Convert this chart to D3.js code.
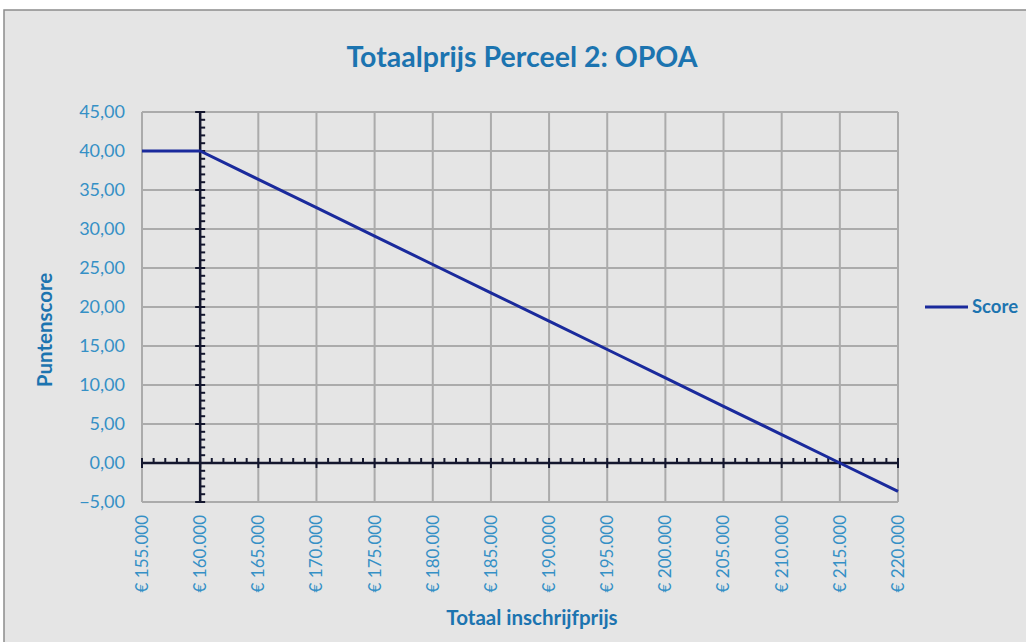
<!DOCTYPE html>
<html><head><meta charset="utf-8">
<script src="https://cdn.jsdelivr.net/npm/d3@7"></script>
<style>body{margin:0;background:#fff}svg{display:block}</style>
</head><body>
<script>
const prices = [155000,160000,165000,170000,175000,180000,185000,190000,195000,200000,205000,210000,215000,220000];
const scores = [40,40,36.36,32.73,29.09,25.45,21.82,18.18,14.55,10.91,7.27,3.64,0,-3.64];
const yTicks = [-5,0,5,10,15,20,25,30,35,40,45];
const xTicks = [155000,160000,165000,170000,175000,180000,185000,190000,195000,200000,205000,210000,215000,220000];
const seriesName = "Score";
const title = "Totaalprijs Perceel 2: OPOA";
const yTitle = "Puntenscore";
const xTitle = "Totaal inschrijfprijs";

const W=1026,H=642;
const svg=d3.select("body").append("svg").attr("width",W).attr("height",H);
svg.append("rect").attr("x",4).attr("y",10).attr("width",W).attr("height",H).attr("fill","#e5e5e5").attr("stroke","#8c8c8c").attr("stroke-width",1.5);

const x=d3.scaleLinear().domain([155000,220000]).range([142,898]);
const y=d3.scaleLinear().domain([-5,45]).range([502,112]);
const font="Lato, 'Open Sans', sans-serif";
const lblCol="#3590c6", titleCol="#1c74b0";

// grid
const g=svg.append("g");
g.selectAll(".vg").data(xTicks).join("line").attr("x1",d=>x(d)).attr("x2",d=>x(d)).attr("y1",y(45)).attr("y2",y(-5)).attr("stroke","#ababab").attr("stroke-width",2);
g.selectAll(".hg").data(yTicks).join("line").attr("x1",x(155000)).attr("x2",x(220000)).attr("y1",d=>y(d)).attr("y2",d=>y(d)).attr("stroke","#ababab").attr("stroke-width",2);

// y tick labels
svg.selectAll(".yl").data(yTicks).join("text").attr("x",125).attr("y",d=>y(d)).attr("dy","0.35em").attr("text-anchor","end")
 .attr("fill",lblCol).attr("font-family",font).attr("font-size",18).text(d=>d3.format(".2f")(d).replace(".",","));
// x tick labels
svg.selectAll(".xl").data(xTicks).join("text").attr("transform",d=>`translate(${x(d)},515) rotate(-90)`).attr("dy","0.35em").attr("text-anchor","end")
 .attr("fill",lblCol).attr("font-family",font).attr("font-size",17).text(d=>"€ "+d3.format(",")(d).replace(/,/g,"."));

// axes
const axCol="#14172e";
const xa=svg.append("g");
xa.append("line").attr("x1",x(155000)).attr("x2",x(220000)).attr("y1",y(0)).attr("y2",y(0)).attr("stroke",axCol).attr("stroke-width",2.5);
const minorX=d3.range(155000,220001,1000);
xa.selectAll(".mx").data(minorX).join("line").attr("x1",d=>x(d)).attr("x2",d=>x(d))
 .attr("y1",y(0)-5).attr("y2",d=>d%5000===0? y(0)+5 : y(0)).attr("stroke",axCol).attr("stroke-width",2);
const ya=svg.append("g");
ya.append("line").attr("x1",x(160000)).attr("x2",x(160000)).attr("y1",y(45)).attr("y2",y(-5)).attr("stroke",axCol).attr("stroke-width",2.5);
const minorY=d3.range(-5,45.01,1);
ya.selectAll(".my").data(minorY).join("line").attr("y1",d=>y(d)).attr("y2",d=>y(d))
 .attr("x1",d=>d%5===0? x(160000)-5 : x(160000)).attr("x2",x(160000)+5).attr("stroke",axCol).attr("stroke-width",2);

// series line
const pts=prices.map((p,i)=>[p,scores[i]]);
svg.append("path").datum(pts).attr("d",d3.line().x(d=>x(d[0])).y(d=>y(d[1]))).attr("fill","none").attr("stroke","#1a2a9c").attr("stroke-width",3);

// titles
svg.append("text").attr("x",522).attr("y",57).attr("dy","0.35em").attr("text-anchor","middle").attr("fill",titleCol)
 .attr("font-family",font).attr("font-weight","bold").attr("font-size",28.5).text(title);
svg.append("text").attr("transform","translate(45,330) rotate(-90)").attr("dy","0.35em").attr("text-anchor","middle").attr("fill",titleCol)
 .attr("font-family",font).attr("font-weight","bold").attr("font-size",20.5).text(yTitle);
svg.append("text").attr("x",532).attr("y",618).attr("dy","0.35em").attr("text-anchor","middle").attr("fill",titleCol)
 .attr("font-family",font).attr("font-weight","bold").attr("font-size",20.5).text(xTitle);

// legend
svg.append("line").attr("x1",925).attr("x2",968).attr("y1",307).attr("y2",307).attr("stroke","#1a2a9c").attr("stroke-width",3);
svg.append("text").attr("x",972).attr("y",307).attr("dy","0.35em").attr("fill",titleCol).attr("font-family",font).attr("font-weight","bold").attr("font-size",18.5).text(seriesName);
</script>
</body></html>
